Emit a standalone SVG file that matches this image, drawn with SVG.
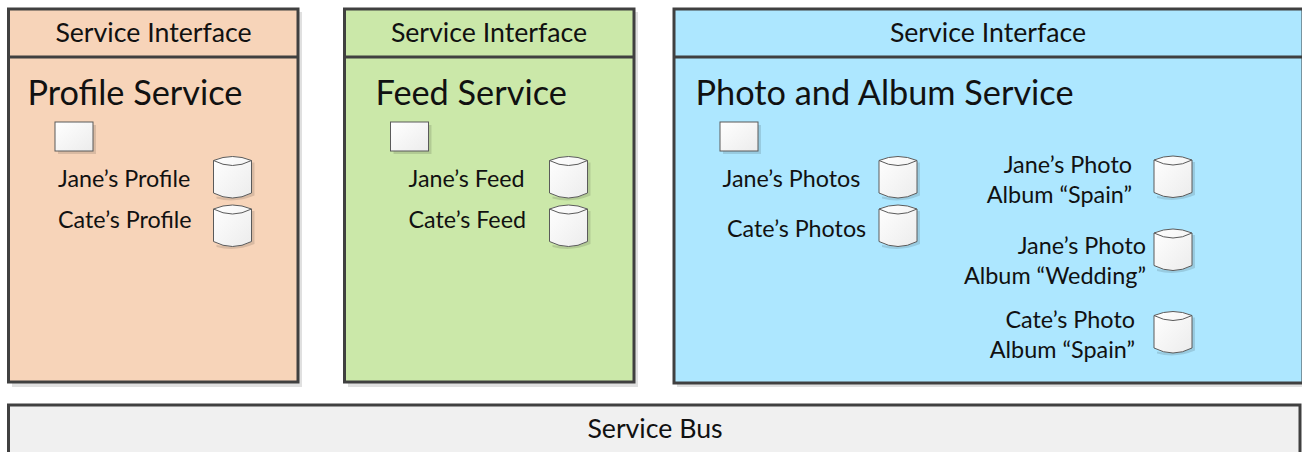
<svg xmlns="http://www.w3.org/2000/svg" xmlns:xlink="http://www.w3.org/1999/xlink" width="1302" height="452" viewBox="0 0 1302 452">
<style>
text{font-family:Lato,"Open Sans",sans-serif;fill:#111}
.h{font-size:26.7px;text-anchor:middle}
.t{font-size:34.300px}
.l{font-size:23.300px}
.r{font-size:23.400px;text-anchor:end}
.box{stroke:#404040;stroke-width:3}
.sep{stroke:#404040;stroke-width:3;fill:none}
.sh{fill:#000;opacity:.12}
.ic{fill:url(#g);stroke:#5a5a5a;stroke-width:1}
.top{fill:none;stroke:#5a5a5a;stroke-width:1}
</style>
<defs>
<linearGradient id="g" x1="0" y1="0" x2="1" y2="1"><stop offset="0" stop-color="#ffffff"/><stop offset="1" stop-color="#ececec"/></linearGradient>
<g id="cyl">
<path class="sh" d="M38 6h3V39Q22 47 3 42V40Q25 44 38 36z"/>
<path class="ic" d="M0 4Q19 -4 38 4V36.500Q19 46.500 0 36.500Z"/>
<path class="top" d="M0 4Q19 14 38 4"/>
</g>
<g id="sq">
<rect class="sh" x="3" y="3" width="38" height="29"/>
<rect class="ic" x="0" y="0" width="38" height="29"/>
</g>
</defs>
<g id="profile-service">
<rect class="sh" x="12" y="12" width="290" height="375"/>
<rect class="box" x="8.500" y="9" width="289.500" height="373" fill="#f7d4b9"/>
<path class="sep" d="M8.500 57H298"/>
<text class="h" x="153.500" y="42">Service Interface</text>
<text class="t" x="27.500" y="105">Profile Service</text>
<use xlink:href="#sq" x="55" y="122"/>
<text class="l" x="58" y="187">Jane’s Profile</text>
<text class="l" x="58" y="228">Cate’s Profile</text>
<use xlink:href="#cyl" x="213.500" y="156.500"/>
<use xlink:href="#cyl" x="213.500" y="205"/>
</g>
<g id="feed-service">
<rect class="sh" x="348" y="12" width="290" height="375"/>
<rect class="box" x="344.500" y="9" width="289.500" height="373" fill="#cbe8a9"/>
<path class="sep" d="M344.500 57H634"/>
<text class="h" x="489" y="42">Service Interface</text>
<text class="t" x="375.500" y="105">Feed Service</text>
<use xlink:href="#sq" x="390.500" y="122"/>
<text class="l" x="408.500" y="187">Jane’s Feed</text>
<text class="l" x="408.500" y="228">Cate’s Feed</text>
<use xlink:href="#cyl" x="549.500" y="156.500"/>
<use xlink:href="#cyl" x="549.500" y="205"/>
</g>
<g id="photo-album-service">
<rect class="sh" x="677" y="12" width="625" height="375"/>
<rect class="box" x="674" y="9" width="629" height="374" fill="#ade7ff"/>
<path class="sep" d="M674 57H1303"/>
<text class="h" x="988" y="42">Service Interface</text>
<text class="t" x="695.500" y="105">Photo and Album Service</text>
<use xlink:href="#sq" x="720" y="122"/>
<text class="l" x="722.500" y="187">Jane’s Photos</text>
<text class="l" x="727" y="237">Cate’s Photos</text>
<use xlink:href="#cyl" x="879" y="156.500"/>
<use xlink:href="#cyl" x="879" y="205"/>
<text class="r" x="1132" y="173">Jane’s Photo</text>
<text class="r" x="1132" y="203">Album “Spain”</text>
<text class="r" x="1146" y="254">Jane’s Photo</text>
<text class="r" x="1146" y="284">Album “Wedding”</text>
<text class="r" x="1135" y="328">Cate’s Photo</text>
<text class="r" x="1135" y="358">Album “Spain”</text>
<use xlink:href="#cyl" x="1154" y="156"/>
<use xlink:href="#cyl" x="1154" y="229"/>
<use xlink:href="#cyl" x="1154" y="311.500"/>
</g>
<g id="service-bus">
<rect class="box" x="8.500" y="405" width="1291.500" height="60" fill="#f0f0f0"/>
<text class="h" x="655" y="438">Service Bus</text>
</g>
<g id="connectors"/>
</svg>
